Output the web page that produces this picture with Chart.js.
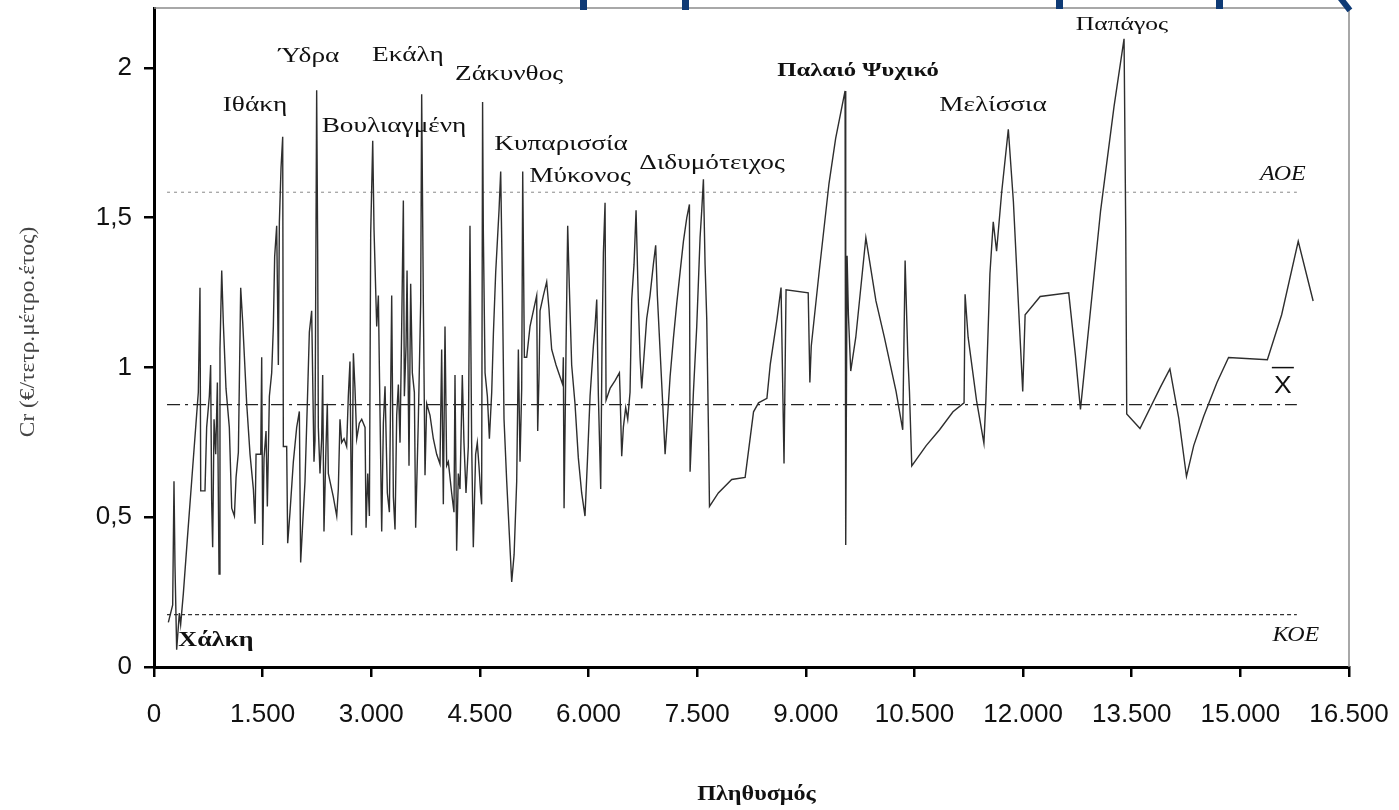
<!DOCTYPE html>
<html>
<head>
<meta charset="utf-8">
<script src="https://cdn.jsdelivr.net/npm/chart.js@4.4.0/dist/chart.umd.min.js"></script>
<style>
  html, body { margin: 0; padding: 0; background: #fff; }
  #wrap { position: relative; width: 1399px; height: 810px; overflow: hidden; }
  /* remnants of the cropped slide title above the chart */
  .cut { position: absolute; top: 0; background: #0e3a75; }
</style>
</head>
<body>
<div id="wrap">
  <canvas id="chart" width="1399" height="810"></canvas>
  <div class="cut" style="left:580px;width:7px;height:10px"></div>
  <div class="cut" style="left:682px;width:7px;height:10px"></div>
  <div class="cut" style="left:1056px;width:7px;height:9px"></div>
  <div class="cut" style="left:1216px;width:7px;height:9px"></div>
  <div class="cut" style="left:1342px;top:-4px;width:6px;height:16px;transform:rotate(-38deg);"></div>
</div>
<script>
// population (x) and cost per m2 per year (y), one point per municipality
var pop = [
  198,258,276,290,313,350,368,405,460,520,
  580,612,635,645,704,727,764,782,796,810,
  829,852,875,898,911,935,957,994,1040,1073,
  1110,1133,1165,1197,1225,1280,1326,1372,1395,1409,
  1474,1487,1501,1519,1547,1565,1593,1625,1648,1666,
  1694,1717,1731,1754,1777,1786,1832,1846,1878,1924,
  1970,2007,2025,2053,2085,2117,2145,2177,2209,2223,
  2246,2260,2269,2292,2315,2329,2347,2375,2393,2407,
  2430,2476,2523,2545,2568,2591,2624,2660,2683,2706,
  2729,2753,2775,2799,2835,2868,2914,2928,2951,2974,
  2992,3020,3038,3075,3098,3112,3144,3167,3190,3222,
  3250,3282,3305,3328,3351,3374,3397,3420,3443,3457,
  3480,3494,3521,3544,3567,3595,3613,3650,3682,3696,
  3719,3742,3765,3811,3857,3903,3949,3972,3995,4018,
  4041,4064,4110,4142,4156,4179,4202,4225,4257,4280,
  4308,4340,4363,4386,4409,4441,4464,4487,4510,4524,
  4537,4547,4571,4603,4631,4663,4686,4718,4741,4764,
  4787,4810,4833,4870,4907,4939,4972,5008,5031,5054,
  5077,5091,5114,5146,5192,5238,5284,5298,5317,5330,
  5376,5422,5454,5468,5491,5551,5606,5643,5652,5662,
  5689,5712,5735,5767,5813,5859,5905,5951,5984,6021,
  6067,6090,6113,6136,6168,6186,6205,6228,6242,6297,
  6366,6426,6435,6458,6481,6513,6541,6573,6596,6628,
  6656,6688,6711,6734,6757,6803,6849,6895,6927,6950,
  6987,7024,7057,7089,7126,7172,7218,7264,7310,7356,
  7393,7402,7448,7494,7540,7563,7586,7609,7632,7655,
  7670,7792,7977,8162,8278,8347,8463,8509,8602,8658,
  8699,8727,9033,9056,9075,9181,9320,9412,9542,9551,
  9570,9588,9620,9690,9829,9968,10084,10246,10338,10371,
  10408,10431,10463,10662,10847,11032,11185,11199,11241,11357,
  11459,11486,11542,11588,11634,11704,11796,11866,11995,12028,
  12236,12630,12722,12792,13070,13255,13394,13417,13431,13614,
  13898,14027,14150,14256,14356,14494,14677,14837,15373,15570,
  15799,16005
];
var cr = [
  0.149,0.207,0.62,0.336,0.058,0.18,0.142,0.245,0.426,0.62,
  0.814,0.917,1.266,0.588,0.588,0.80,0.904,1.008,0.556,0.40,
  0.827,0.71,0.95,0.31,1.06,1.324,1.15,0.93,0.80,0.53,
  0.504,0.633,0.717,1.266,1.15,0.879,0.71,0.594,0.478,0.71,
  0.71,1.034,0.407,0.698,0.788,0.536,0.904,0.982,1.137,1.37,
  1.473,1.008,1.486,1.667,1.77,0.736,0.736,0.413,0.517,0.685,
  0.80,0.853,0.349,0.478,0.62,0.879,1.118,1.189,0.685,0.756,
  1.925,1.395,0.80,0.646,0.762,0.975,0.452,0.736,0.879,0.646,
  0.62,0.568,0.504,0.594,0.827,0.749,0.762,0.736,0.904,1.02,
  0.44,1.047,0.93,0.762,0.814,0.827,0.80,0.465,0.646,0.504,
  1.447,1.757,1.46,1.137,1.24,0.995,0.452,0.814,0.937,0.581,
  0.517,1.24,0.568,0.459,0.84,0.943,0.749,1.137,1.557,0.904,
  1.072,1.324,0.672,1.279,0.982,0.917,0.465,0.827,1.214,1.912,
  1.214,0.64,0.879,0.84,0.762,0.71,0.678,1.06,0.543,1.137,
  0.672,0.685,0.581,0.517,0.975,0.388,0.646,0.594,0.975,0.749,
  0.581,0.736,1.473,0.749,0.40,0.71,0.749,0.672,0.581,0.543,
  1.886,1.46,0.982,0.904,0.762,0.917,1.111,1.318,1.421,1.525,
  1.654,1.279,0.827,0.62,0.44,0.284,0.375,0.62,1.06,0.685,
  0.93,1.654,1.034,1.034,1.137,1.189,1.24,0.788,0.982,1.189,
  1.24,1.286,1.195,1.137,1.06,1.008,0.969,0.943,1.034,0.53,
  1.06,1.473,1.266,1.008,0.879,0.698,0.581,0.504,0.685,0.904,
  1.072,1.137,1.227,0.904,0.594,1.072,1.382,1.55,0.891,0.93,
  0.956,0.982,0.917,0.704,0.801,0.866,0.827,0.917,1.227,1.344,
  1.525,1.214,1.034,0.93,1.008,1.163,1.24,1.344,1.408,1.24,
  1.06,0.879,0.71,0.827,0.969,1.098,1.214,1.318,1.421,1.499,
  1.544,0.652,0.917,1.137,1.434,1.525,1.628,1.344,1.163,0.801,
  0.536,0.581,0.626,0.633,0.852,0.882,0.897,1.01,1.161,1.267,
  0.679,1.259,1.249,0.95,1.071,1.312,1.614,1.765,1.923,0.407,
  1.373,1.176,0.988,1.101,1.433,1.222,1.101,0.92,0.792,1.357,
  1.041,0.92,0.671,0.739,0.792,0.852,0.882,1.244,1.101,0.89,
  0.747,0.89,1.312,1.486,1.388,1.584,1.795,1.554,0.92,1.176,
  1.237,1.249,1.041,0.86,1.523,1.87,2.097,1.47,0.845,0.796,
  0.935,0.995,0.83,0.636,0.739,0.837,0.95,1.033,1.026,1.176,
  1.421,1.222
];

// control limits
var refSpan = [180, 15780];
var aoe = 1.585;   // upper limit
var meanCr = 0.876;
var koe = 0.175;   // lower limit

// place-name annotations (text centre in data units)
var placeNames = ['Ιθάκη','Ύδρα','Εκάλη','Βουλιαγμένη','Ζάκυνθος','Κυπαρισσία','Μύκονος','Διδυμότειχος','Παλαιό Ψυχικό','Μελίσσια','Παπάγος','Χάλκη'];
var placeX = [1395, 2140, 3507, 3314, 4902, 5620, 5882, 7705, 9721, 11585, 13366, 856];
var placeY = [1.873, 2.037, 2.04, 1.806, 1.977, 1.745, 1.638, 1.682, 1.99, 1.876, 2.144, 0.087];

var xTickStep = 1500;
var yTickStep = 0.5;

var points = pop.map(function(p, i) { return { x: p, y: cr[i] }; });
var hline = function(v) { return refSpan.map(function(x) { return { x: x, y: v }; }); };

var SANS = '"Liberation Sans", Arial, sans-serif';
var SERIF = '"Liberation Serif", "Times New Roman", serif';

function stretchText(ctx, txt, x, y, font, sx, color) {
  ctx.save();
  ctx.translate(x, y);
  ctx.scale(sx, 1);
  ctx.font = font;
  ctx.fillStyle = color;
  ctx.textAlign = 'center';
  ctx.textBaseline = 'middle';
  ctx.fillText(txt, 0, 0);
  ctx.restore();
}

var decor = {
  id: 'decor',
  afterDraw: function(chart) {
    var ctx = chart.ctx, a = chart.chartArea;
    var xs = chart.scales.x, ys = chart.scales.y;

    // thin frame on top and right
    ctx.save();
    ctx.strokeStyle = '#8c8c8c';
    ctx.lineWidth = 1.5;
    ctx.beginPath();
    ctx.moveTo(a.left, a.top);
    ctx.lineTo(a.right, a.top);
    ctx.lineTo(a.right, a.bottom);
    ctx.stroke();
    ctx.restore();

    placeNames.forEach(function(name, i) {
      var font = '21px ' + SERIF, sx = 1.3;
      if (name === 'Παπάγος') { font = '18px ' + SERIF; sx = 1.42; }
      if (name === 'Παλαιό Ψυχικό') font = 'bold 19px ' + SERIF;
      if (name === 'Χάλκη') font = 'bold 20px ' + SERIF;
      stretchText(ctx, name, xs.getPixelForValue(placeX[i]), ys.getPixelForValue(placeY[i]), font, sx, '#111');
    });

    // limit labels
    var lx = xs.getPixelForValue(refSpan[1]);
    stretchText(ctx, 'ΑΟΕ', lx - 14, ys.getPixelForValue(aoe) - 17, 'italic 20px ' + SERIF, 1.2, '#111');
    stretchText(ctx, 'ΚΟΕ', lx - 1, ys.getPixelForValue(koe) + 21, 'italic 20px ' + SERIF, 1.2, '#111');
    var my = ys.getPixelForValue(meanCr);
    stretchText(ctx, 'X', lx - 14, my - 18, '24px ' + SANS, 1.1, '#111');
    ctx.save();
    ctx.strokeStyle = '#111';
    ctx.lineWidth = 1.5;
    ctx.beginPath();
    ctx.moveTo(lx - 25, my - 37);
    ctx.lineTo(lx - 3, my - 37);
    ctx.stroke();
    ctx.restore();

    // axis titles
    ctx.save();
    ctx.translate(28, 332);
    ctx.rotate(-Math.PI / 2);
    ctx.scale(1.3, 1.2);
    ctx.font = '18px ' + SERIF;
    ctx.fillStyle = '#444';
    ctx.textAlign = 'center';
    ctx.textBaseline = 'middle';
    ctx.fillText('Cr (€/τετρ.μέτρο.έτος)', 0, 0);
    ctx.restore();
    stretchText(ctx, 'Πληθυσμός', (a.left + a.right) / 2 + 5, 795, 'bold 21px ' + SERIF, 1.15, '#111');
  }
};

new Chart(document.getElementById('chart'), {
  type: 'line',
  data: {
    datasets: [
      { data: points, borderColor: '#2e2e2e', borderWidth: 1.4, pointRadius: 0, tension: 0 },
      { data: hline(aoe), borderColor: '#888', borderWidth: 1, borderDash: [3, 4], pointRadius: 0 },
      { data: hline(meanCr), borderColor: '#222', borderWidth: 1.3, borderDash: [13, 5, 3, 5], pointRadius: 0 },
      { data: hline(koe), borderColor: '#333', borderWidth: 1.2, borderDash: [4, 3], pointRadius: 0 }
    ]
  },
  options: {
    responsive: false,
    animation: false,
    devicePixelRatio: 1,
    layout: { padding: { left: 0, right: 50, top: 8, bottom: 0 } },
    plugins: { legend: { display: false }, tooltip: { enabled: false } },
    scales: {
      x: {
        type: 'linear',
        min: 0,
        max: 16500,
        afterFit: function(s) { s.height = 143; s.paddingLeft = 0; s.paddingRight = 0; },
        ticks: {
          stepSize: xTickStep,
          padding: 22,
          color: '#111',
          font: { family: SANS, size: 26 },
          callback: function(v) { return String(v).replace(/\B(?=(\d{3})+(?!\d))/g, '.'); }
        },
        grid: { drawOnChartArea: false, drawTicks: true, tickLength: 10, color: '#000', lineWidth: 2.5 },
        border: { display: true, color: '#000', width: 3 }
      },
      y: {
        min: 0,
        max: 2.2,
        afterFit: function(s) { s.width = 154; s.paddingTop = 0; s.paddingBottom = 0; },
        afterBuildTicks: function(s) {
          s.ticks = s.ticks.filter(function(t) { return Math.abs(t.value / yTickStep - Math.round(t.value / yTickStep)) < 1e-6; });
        },
        ticks: {
          stepSize: yTickStep,
          padding: 12,
          color: '#111',
          font: { family: SANS, size: 26 },
          callback: function(v) { return String(v).replace('.', ','); }
        },
        grid: { drawOnChartArea: false, drawTicks: true, tickLength: 10, color: '#000', lineWidth: 2.5 },
        border: { display: true, color: '#000', width: 3 }
      }
    }
  },
  plugins: [decor]
});
</script>
</body>
</html>
